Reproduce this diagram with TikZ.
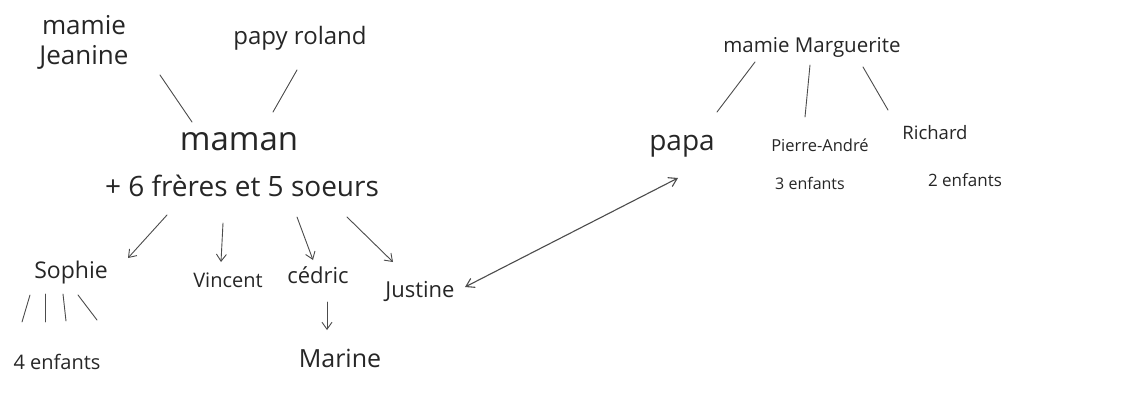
\documentclass[tikz,border=0pt]{standalone}
\usepackage{fontspec}
\setmainfont{Open Sans}
\usetikzlibrary{arrows.meta}
\tikzset{
  person/.style={inner sep=0pt, text=black!85, anchor=center, align=center},
  link/.style={draw=black!70, line width=0.9pt, line cap=round},
  child/.style={link, -{Straight Barb[length=7pt,width=10pt]}},
  couple/.style={link, line width=1.1pt, {Straight Barb[length=8pt,width=10pt]}-{Straight Barb[length=8pt,width=10pt]}}
}
\newcommand{\fs}[1]{\fontsize{#1}{1.1\dimexpr#1pt\relax}\selectfont}
\begin{document}
\begin{tikzpicture}[x=1pt,y=-1pt]
\useasboundingbox[fill=white] (0,0) rectangle (1143,394);

% mother's side
\node[person, font={\fontsize{26}{30}\selectfont}] (jeanine) at (84,42) {mamie\\Jeanine};
\node[person] (roland) at (300,38) {\fs{24}papy roland};
\node[person] (maman) at (239,142) {\fs{33}maman};
\node[person] (freres) at (242,186) {\fs{28}+ 6 frères et 5 soeurs};

\coordinate (j1) at (160,75);  \coordinate (j2) at (192,122);
\coordinate (r1) at (297,70);  \coordinate (r2) at (273,112);
\draw[link] (j1) -- (j2);
\draw[link] (r1) -- (r2);

% children
\node[person] (sophie) at (71,273) {\fs{23}Sophie};
\node[person] (vincent) at (228,280) {\fs{20}Vincent};
\node[person] (cedric) at (318,275) {\fs{22}cédric};
\node[person] (justine) at (420,291) {\fs{22}Justine};
\node[person] (marine) at (340,358) {\fs{25}Marine};
\node[person] (quatre) at (57,362) {\fs{20}4 enfants};

\coordinate (s1) at (167,215); \coordinate (s2) at (128,258);
\coordinate (v1) at (223,223); \coordinate (v2) at (221,262);
\coordinate (c1) at (297,217); \coordinate (c2) at (313,260);
\coordinate (u1) at (347,217); \coordinate (u2) at (393,262);
\draw[child] (s1) -- (s2);
\draw[child] (v1) -- (v2);
\draw[child] (c1) -- (c2);
\draw[child] (u1) -- (u2);

\coordinate (m1) at (327,302); \coordinate (m2) at (327,330);
\draw[child] (m1) -- (m2);

% Sophie's four children
\draw[link] (30,295) -- (22,322);
\draw[link] (45,294) -- (45,322);
\draw[link] (63,294) -- (66,321);
\draw[link] (78,295) -- (97,320);

% father's side
\node[person] (marguerite) at (812,47) {\fs{20.5}mamie Marguerite};
\node[person] (papa) at (682,146) {\fs{28}papa};
\node[person] (pierre) at (820,145) {\fs{16.5}Pierre-André};
\node[person] (trois) at (810,183) {\fs{16}3 enfants};
\node[person] (richard) at (935,133) {\fs{18.5}Richard};
\node[person] (deux) at (965,180) {\fs{17}2 enfants};

\coordinate (g1) at (755,62);  \coordinate (g2) at (717,112);
\coordinate (h1) at (810,65);  \coordinate (h2) at (805,117);
\coordinate (k1) at (863,67);  \coordinate (k2) at (888,110);
\draw[link] (g1) -- (g2);
\draw[link] (h1) -- (h2);
\draw[link] (k1) -- (k2);

% the couple
\coordinate (pj) at (465,287); \coordinate (pp) at (678,178);
\draw[couple] (pj) -- (pp);
\end{tikzpicture}
\end{document}
